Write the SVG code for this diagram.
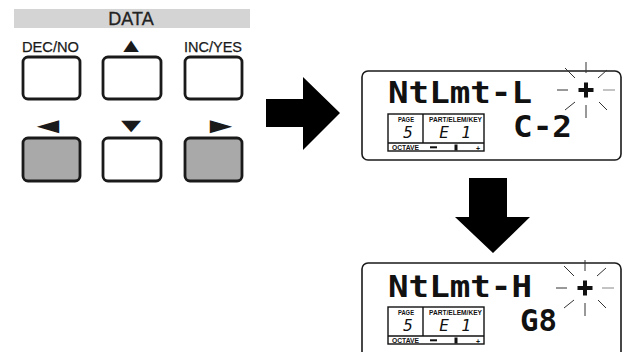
<svg xmlns="http://www.w3.org/2000/svg" width="623" height="352" viewBox="0 0 623 352">
<style>
.btn{stroke:#1a1a1a;stroke-width:2.8;fill:#fff}
.btn.g{fill:#a9a9a9}
.lbl{font-family:"Liberation Sans",Arial,sans-serif;font-size:15px;fill:#1a1a1a;stroke:#1a1a1a;stroke-width:0.25}
.sym{font-family:"Liberation Sans","DejaVu Sans",sans-serif;font-size:22px;fill:#1a1a1a;text-anchor:middle}
.lcd{stroke:#1a1a1a;stroke-width:1.6;fill:#fff}
.big{font-family:"DejaVu Sans Mono",monospace;font-size:30px;font-weight:bold;fill:#111}
.tb{stroke:#111;stroke-width:1.4;fill:none}
.tiny{font-family:"Liberation Sans",Arial,sans-serif;font-size:7px;font-weight:bold;fill:#111}
.dig{font-family:"DejaVu Sans Mono",monospace;font-size:16px;font-style:italic;fill:#111;text-anchor:middle}
.ray{stroke:#333;stroke-width:1}
.ray2{stroke:#888;stroke-width:1}
</style>
<defs>
<g id="spark">
<rect x="-7.5" y="-2" width="15" height="4" fill="#111"/>
<rect x="-2" y="-7.5" width="4" height="15" fill="#111"/>
<line class="ray" x1="0" y1="-28" x2="0" y2="-17"/>
<line class="ray" x1="0" y1="15" x2="0" y2="28"/>
<line class="ray" x1="-29" y1="0" x2="-18" y2="0"/>
<line class="ray2" x1="17" y1="0" x2="29" y2="0"/>
<line class="ray" x1="-21" y1="-22" x2="-11" y2="-12"/>
<line class="ray" x1="12" y1="-12" x2="21" y2="-20"/>
<line class="ray" x1="-21" y1="20" x2="-11" y2="12"/>
<line class="ray" x1="13" y1="12" x2="21" y2="20"/>
</g>
<g id="table">
<rect class="tb" x="388" y="114" width="96" height="37"/>
<line class="tb" x1="423" y1="114" x2="423" y2="143"/>
<line class="tb" x1="388" y1="143" x2="484" y2="143"/>
<text class="tiny" x="398" y="122" textLength="16" lengthAdjust="spacingAndGlyphs">PAGE</text>
<text class="tiny" x="429" y="122" textLength="53" lengthAdjust="spacingAndGlyphs">PART/ELEM/KEY</text>
<text class="dig" x="408" y="138">5</text>
<text class="dig" x="444" y="138">E</text>
<text class="dig" x="466" y="138">1</text>
<text class="tiny" x="392" y="149.5" textLength="27" lengthAdjust="spacingAndGlyphs">OCTAVE</text>
<rect x="430" y="146.3" width="7" height="2" fill="#111"/>
<rect x="454.5" y="144.5" width="3" height="6" fill="#111"/>
<text class="tiny" x="478" y="150.5" text-anchor="middle" font-size="10px">+</text>
</g>
</defs>
<g id="data-panel">
<rect x="14" y="9" width="236" height="19" fill="#d4d4d4"/>
<text x="131" y="25" font-family="Liberation Sans,Arial,sans-serif" font-size="18" fill="#222" stroke="#222" stroke-width="0.3" text-anchor="middle">DATA</text>
</g>
<g id="btn-dec">
<text class="lbl" x="22" y="52" textLength="57" lengthAdjust="spacingAndGlyphs">DEC/NO</text>
<rect class="btn" x="23" y="57" width="57" height="42" rx="5"/>
</g>
<g id="btn-up">
<text class="sym" transform="translate(131,52) scale(1.2,0.9)">▲</text>
<rect class="btn" x="103" y="57" width="58" height="42" rx="5"/>
</g>
<g id="btn-inc">
<text class="lbl" x="184" y="52" textLength="58" lengthAdjust="spacingAndGlyphs">INC/YES</text>
<rect class="btn" x="185" y="57" width="57" height="42" rx="5"/>
</g>
<g id="btn-left">
<text class="sym" transform="translate(48,133) scale(1.7,1)">◄</text>
<rect class="btn g" x="23" y="138" width="57" height="43" rx="5"/>
</g>
<g id="btn-down">
<text class="sym" transform="translate(131,131.5) scale(1.55,0.9)">▼</text>
<rect class="btn" x="103" y="138" width="58" height="43" rx="5"/>
</g>
<g id="btn-right">
<text class="sym" transform="translate(221,133) scale(1.7,1)">►</text>
<rect class="btn g" x="185" y="138" width="57" height="43" rx="5"/>
</g>
<g id="connectors">
<polygon points="266,99 303,99 303,77 340,113 303,150 303,127 266,127" fill="#000"/>
<polygon points="469,178 507,178 507,217 530,217 493,253 455,217 469,217" fill="#000"/>
</g>
<g id="lcd-1">
<rect class="lcd" x="362" y="71" width="259" height="89" rx="6"/>
<text class="big" x="388" y="103" textLength="144" lengthAdjust="spacingAndGlyphs">NtLmt-L</text>
<text class="big" x="513" y="137" textLength="59" lengthAdjust="spacingAndGlyphs">C-2</text>
<use href="#table"/>
<use href="#spark" x="586" y="90"/>
</g>
<g id="lcd-2">
<rect class="lcd" x="362" y="263" width="259" height="120" rx="6"/>
<text class="big" x="388" y="297" textLength="144" lengthAdjust="spacingAndGlyphs">NtLmt-H</text>
<text class="big" x="520" y="331" textLength="37" lengthAdjust="spacingAndGlyphs">G8</text>
<use href="#table" y="193"/>
<use href="#spark" x="585" y="288"/>
</g>
</svg>
